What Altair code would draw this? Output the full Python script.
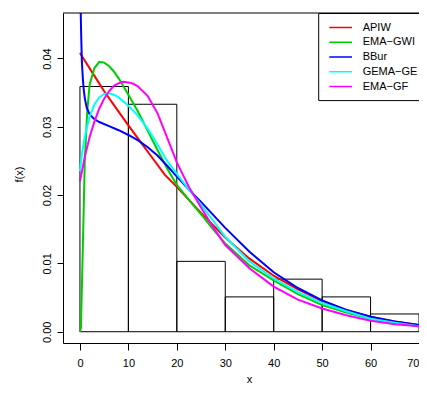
import altair as alt
import pandas as pd

# ---- histogram (density scale) ----
bin_left = [0, 10, 20, 30, 40, 50, 60]
bin_right = [10, 20, 30, 40, 50, 60, 70]
density = [0.0359, 0.0333, 0.0103, 0.0051, 0.0077, 0.0051, 0.0026]

# ---- fitted densities ----
labels = ["APIW", "EMA\u2212GWI", "BBur", "GEMA\u2212GE", "EMA\u2212GF"]
colors = ["#FF0000", "#00CD00", "#0000FF", "#00FFFF", "#FF00FF"]

apiw_x = [0, 2.5, 5, 7.5, 10, 12.5, 15, 17.5, 20, 25, 30, 35, 40, 45, 50, 55, 60, 65, 70]
apiw_y = [0.0408, 0.0380, 0.0352, 0.0327, 0.0302, 0.0278, 0.0254, 0.0230, 0.0212, 0.0174,
          0.0138, 0.0107, 0.0082, 0.0062, 0.0045, 0.0032, 0.0022, 0.0015, 0.0010]

gwi_x = [0, 0.2, 0.6, 1, 1.5, 2, 3, 4, 5, 6, 7, 8, 10, 12, 14, 16, 18, 20, 22.5, 25, 27.5,
         30, 35, 40, 45, 50, 55, 60, 65, 70]
gwi_y = [0.0, 0.0005, 0.0125, 0.0251, 0.0322, 0.0362, 0.0386, 0.0395, 0.0394, 0.0389, 0.0381,
         0.0371, 0.0347, 0.0322, 0.0294, 0.0266, 0.0239, 0.0215, 0.0193, 0.0172, 0.0150,
         0.0129, 0.0097, 0.0075, 0.0055, 0.0039, 0.0028, 0.0019, 0.0013, 0.0008]

bbur_x = [0.1, 0.15, 0.25, 0.4, 0.6, 0.8, 1.0, 1.4, 2, 3, 4, 6, 8, 10, 12, 14, 16, 18, 20,
          22.5, 25, 30, 35, 40, 45, 50, 55, 60, 65, 70]
bbur_y = [0.055, 0.047, 0.0435, 0.0395, 0.0370, 0.0353, 0.0342, 0.0328, 0.0318, 0.0311,
          0.0307, 0.0301, 0.0295, 0.0288, 0.0280, 0.0270, 0.0258, 0.0243, 0.0227, 0.0208,
          0.0190, 0.0152, 0.0117, 0.0087, 0.0064, 0.0046, 0.0032, 0.0022, 0.0015, 0.0010]

gemage_x = [0, 0.5, 1, 1.5, 2, 3, 4, 5, 6, 7, 8, 10, 12, 14, 16, 18, 20, 22.5, 25, 30, 35,
            40, 45, 50, 55, 60, 65, 70]
gemage_y = [0.0235, 0.0265, 0.0285, 0.0301, 0.0315, 0.0333, 0.0343, 0.0348, 0.0349, 0.0347,
            0.0343, 0.0331, 0.0316, 0.0297, 0.0274, 0.0250, 0.0231, 0.0208, 0.0186, 0.0139,
            0.0103, 0.0078, 0.0058, 0.0042, 0.0030, 0.0019, 0.0013, 0.0008]

emagf_x = [0, 1, 2, 3, 4, 5, 6, 7, 8, 9, 10, 11, 12, 14, 16, 18, 20, 22.5, 25, 27.5, 30, 35,
           40, 45, 50, 55, 60, 65, 70]
emagf_y = [0.0220, 0.0256, 0.0285, 0.0308, 0.0327, 0.0341, 0.0352, 0.0360, 0.0364, 0.0366,
           0.0365, 0.0363, 0.0359, 0.0345, 0.0320, 0.0284, 0.0248, 0.0212, 0.0182, 0.0153,
           0.0127, 0.0093, 0.0066, 0.0047, 0.0034, 0.0024, 0.0016, 0.0011, 0.0008]

x_ticks = [0, 10, 20, 30, 40, 50, 60, 70]
y_ticks = [0.00, 0.01, 0.02, 0.03, 0.04]

# ---- tables ----
hist_df = pd.DataFrame({"x0": bin_left, "x1": bin_right, "y0": [0.0] * len(density), "density": density})

series = [(apiw_x, apiw_y), (gwi_x, gwi_y), (bbur_x, bbur_y), (gemage_x, gemage_y), (emagf_x, emagf_y)]
rows = []
for lab, (xs, ys) in zip(labels, series):
    for xv, yv in zip(xs, ys):
        rows.append({"label": lab, "x": xv, "y": yv})
curve_df = pd.DataFrame(rows)
legend_df = pd.DataFrame({"label": labels, "row": list(range(len(labels)))})

FONT = "Liberation Sans"
W, H = 356, 330          # plot area; the original plot region runs past the right edge

x_scale = alt.Scale(domain=[-3.5, 70], nice=False, zero=False)
y_scale = alt.Scale(domain=[-0.00165, 0.04666], nice=False, zero=False)
color_scale = alt.Scale(domain=labels, range=colors)
legend_y = alt.Scale(domain=[0, 4], range=[14.5, 73.5])

x_axis = alt.Axis(values=x_ticks, format="d", grid=False, tickSize=7, tickColor="black",
                  domainColor="black", labelColor="black", labelFont=FONT, labelFontSize=11,
                  labelPadding=7, title="x", titleFont=FONT, titleFontSize=11,
                  titleFontWeight="normal", titleColor="black", titleX=186, titleY=39,
                  titleBaseline="alphabetic", titleAlign="center", labelFlush=True)
y_axis = alt.Axis(values=y_ticks, format=".2f", grid=False, tickSize=6, tickColor="black",
                  domainColor="black", labelColor="black", labelFont=FONT, labelFontSize=11,
                  labelAngle=270, labelAlign="center", labelBaseline="bottom", labelPadding=5,
                  labelFlush=False, title="f(x)", titleFont=FONT, titleFontSize=11,
                  titleFontWeight="normal", titleColor="black", titleAngle=270, titleX=-44,
                  titleY=161, titleBaseline="middle", titleAlign="center")

hist = alt.Chart(hist_df).mark_rect(fillOpacity=0, stroke="black", strokeWidth=1).encode(
    x=alt.X("x0:Q", scale=x_scale, axis=x_axis, title="x"),
    x2="x1:Q",
    y=alt.Y("y0:Q", scale=y_scale, axis=y_axis, title="f(x)"),
    y2="density:Q",
)

curves = alt.Chart(curve_df).mark_line(strokeWidth=2, clip=True).encode(
    x=alt.X("x:Q", scale=x_scale, axis=x_axis, title="x"),
    y=alt.Y("y:Q", scale=y_scale, axis=None),
    color=alt.Color("label:N", scale=color_scale, legend=None),
    detail="label:N",
)

one = pd.DataFrame({"k": [0]})
top_border = alt.Chart(one).mark_rule(color="black", strokeWidth=1).encode(
    x=alt.value(0), x2=alt.value(W + 10), y=alt.value(0)
)

LX = 255.7  # legend box left edge inside the plot
legend_box = alt.Chart(one).mark_rect(fill="white", stroke="black", strokeWidth=1).encode(
    x=alt.value(LX), x2=alt.value(W + 30), y=alt.value(0.5), y2=alt.value(87.6)
)
legend_lines = alt.Chart(legend_df).mark_rule(strokeWidth=1.5).encode(
    x=alt.value(LX + 10.6), x2=alt.value(LX + 33.3),
    y=alt.Y("row:Q", scale=legend_y, axis=None),
    color=alt.Color("label:N", scale=color_scale, legend=None),
)
legend_text = alt.Chart(legend_df).mark_text(align="left", baseline="middle", font=FONT,
                                             fontSize=11, color="black").encode(
    x=alt.value(LX + 44),
    y=alt.Y("row:Q", scale=legend_y, axis=None),
    text="label:N",
)

chart = alt.layer(hist, curves, top_border, legend_box, legend_lines, legend_text).resolve_scale(
    y="independent"
).properties(
    width=W, height=H,
    padding={"left": 55, "top": 5, "right": 0, "bottom": 40},
    autosize=alt.AutoSizeParams(type="none"),
    background="white",
).configure_view(stroke=None)

chart.save("out.html", embed_options={"renderer": "svg", "actions": False})
